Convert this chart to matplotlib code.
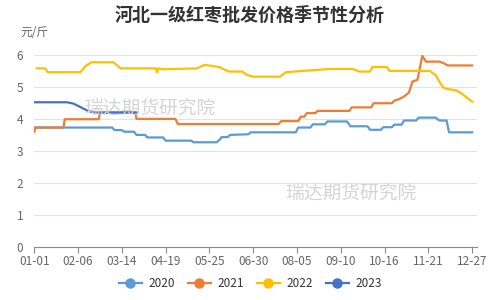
import matplotlib
matplotlib.use('Agg')
import matplotlib.pyplot as plt
from matplotlib.lines import Line2D

plt.rcParams['font.family'] = ['Noto Sans CJK SC', 'DejaVu Sans']

# day index from 01-01 (0) and price in 元/斤
day_2020 = [0, 64, 66, 72, 74, 82, 84, 91, 93, 106, 108, 129, 131, 150, 153, 154, 159, 161, 176, 178,
            215, 217, 227, 229, 239, 241, 257, 260, 274, 276, 285, 287, 294, 296, 302, 304, 314, 316,
            330, 333, 339, 341, 360]
val_2020 = [3.73, 3.73, 3.65, 3.65, 3.6, 3.6, 3.5, 3.5, 3.42, 3.42, 3.32, 3.32, 3.27, 3.27, 3.37, 3.43, 3.43, 3.5, 3.52, 3.58,
            3.58, 3.73, 3.73, 3.83, 3.83, 3.92, 3.92, 3.77, 3.77, 3.66, 3.66, 3.74, 3.74, 3.82, 3.82, 3.95, 3.95, 4.04,
            4.04, 3.95, 3.95, 3.58, 3.58]

day_2021 = [0, 1, 24, 25, 53, 54, 83, 84, 116, 118, 201, 203, 217, 219, 222, 224, 231, 233, 259, 261,
            277, 279, 294, 296, 300, 304, 308, 311, 315, 319, 322, 333, 336, 340, 360]
val_2021 = [3.6, 3.73, 3.73, 3.99, 3.99, 4.2, 4.2, 4.0, 4.0, 3.84, 3.84, 3.93, 3.93, 4.07, 4.07, 4.18, 4.18, 4.25, 4.25, 4.36,
            4.36, 4.49, 4.49, 4.57, 4.62, 4.7, 4.82, 5.17, 5.22, 5.97, 5.79, 5.79, 5.75, 5.67, 5.67]

day_2022 = [2, 9, 11, 38, 42, 47, 65, 71, 100, 101, 102, 106, 134, 140, 152, 160, 171, 175, 180, 202,
            207, 221, 243, 262, 267, 276, 278, 290, 292, 325, 326, 330, 333, 336, 339, 347, 351, 360]
val_2022 = [5.58, 5.58, 5.46, 5.46, 5.65, 5.77, 5.77, 5.58, 5.58, 5.45, 5.58, 5.55, 5.58, 5.69, 5.62, 5.48, 5.48, 5.37, 5.32, 5.32,
            5.46, 5.5, 5.56, 5.56, 5.48, 5.48, 5.62, 5.62, 5.5, 5.5, 5.48, 5.37, 5.17, 4.99, 4.94, 4.89, 4.8, 4.54]

day_2023 = [0, 27, 32, 38, 44, 50, 84]
val_2023 = [4.52, 4.52, 4.48, 4.37, 4.25, 4.2, 4.2]

tick_days = [0, 36, 72, 108, 144, 180, 216, 252, 288, 324, 360]
tick_labels = ['01-01', '02-06', '03-14', '04-19', '05-25', '06-30', '08-05', '09-10', '10-16', '11-21', '12-27']

colors = {'2020': '#5B9BD5', '2021': '#ED7D31', '2022': '#FFC000', '2023': '#4472C4'}

fig = plt.figure(figsize=(5, 3), dpi=100)
ax = fig.add_axes([0.0686, 0.177, 0.8854, 0.64])

ax.plot(day_2020, val_2020, color=colors['2020'], lw=1.6)
ax.plot(day_2021, val_2021, color=colors['2021'], lw=1.6)
ax.plot(day_2022, val_2022, color=colors['2022'], lw=1.6)
ax.plot(day_2023, val_2023, color=colors['2023'], lw=1.6)

ax.set_xlim(0, 364)
ax.set_ylim(0, 6)
ax.set_yticks(range(0, 7))
ax.set_xticks(tick_days)
ax.set_xticklabels(tick_labels)
ax.grid(axis='y', color='#e3e3e3', lw=0.8)
ax.set_axisbelow(True)
for s in ['top', 'right', 'left']:
    ax.spines[s].set_visible(False)
ax.spines['bottom'].set_color('#8a8a8a')
ax.tick_params(axis='x', colors='#8a8a8a', labelcolor='#666666', labelsize=8.5, length=4, pad=2)
ax.tick_params(axis='y', length=0, labelcolor='#666666', labelsize=8.5, pad=8)

fig.text(0.5, 0.95, '河北一级红枣批发价格季节性分析', ha='center', va='center',
         fontsize=13, fontweight='bold', color='#333333')
fig.text(0.04, 0.89, '元/斤', ha='left', va='center', fontsize=8.5, color='#666666')

# watermarks
fig.text(0.30, 0.64, '瑞达期货研究院', ha='center', va='center', fontsize=13.5, color='#d4d4d4')
fig.text(0.702, 0.357, '瑞达期货研究院', ha='center', va='center', fontsize=13.5, color='#d4d4d4')

handles = [Line2D([0], [0], color=c, lw=1.6, marker='o', markersize=6.5) for c in colors.values()]
fig.legend(handles, list(colors.keys()), loc='center', bbox_to_anchor=(0.5, 0.055), ncol=4,
           frameon=False, fontsize=8.5, handlelength=2.0, columnspacing=1.1, handletextpad=0.5,
           labelcolor='#333333')

fig.savefig('out.png', dpi=100)
